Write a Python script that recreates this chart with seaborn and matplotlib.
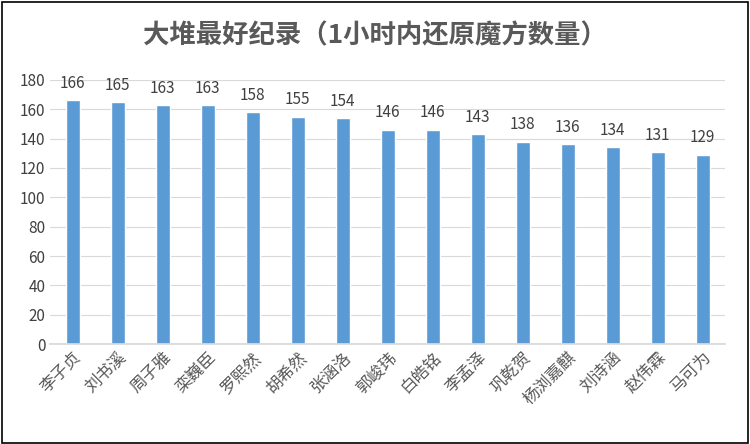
import matplotlib
matplotlib.use("Agg")
import matplotlib.pyplot as plt
import seaborn as sns
import pandas as pd

names = ["李子贞","刘书溪","周子雅","栾巍臣","罗熙然","胡希然","张涵洛","郭峻玮","白皓铭","李孟泽","巩乾贺","杨浏嘉麒","刘诗涵","赵伟霖","马可为"]
values = [166,165,163,163,158,155,154,146,146,143,138,136,134,131,129]
title = "大堆最好纪录（1小时内还原魔方数量）"

sns.set_theme(style="white")
plt.rcParams['font.family'] = ['Noto Sans CJK SC', 'DejaVu Sans']

fig = plt.figure(figsize=(7.5, 4.44), dpi=100)
ax = fig.add_axes([0.067, 0.225, 0.90, 0.595])
df = pd.DataFrame({"name": names, "value": values})
sns.barplot(data=df, x="name", y="value", color="#5B9BD5", saturation=1, width=0.3, ax=ax)
ax.set_ylim(0, 180)
ax.set_yticks(range(0, 181, 20))
ax.yaxis.grid(True, color="#d9d9d9", lw=0.8)
ax.set_axisbelow(True)
for s in ["top", "right", "left"]:
    ax.spines[s].set_visible(False)
ax.spines["bottom"].set_color("#d9d9d9")
ax.set_xlabel(""); ax.set_ylabel("")
ax.tick_params(axis="y", labelsize=11, colors="#404040", length=0)
ax.tick_params(axis="x", labelsize=12, colors="#595959", length=0)
plt.setp(ax.get_xticklabels(), rotation=45, ha="right", rotation_mode="anchor")
for c in ax.containers:
    ax.bar_label(c, fmt="%d", padding=6, fontsize=11, color="#404040")
fig.text(0.5, 0.92, title, ha="center", va="center", fontsize=19, fontweight="bold", color="#595959")
fig.patches.append(plt.Rectangle((0.002, 0.003), 0.995, 0.993, transform=fig.transFigure, fill=False, ec="black", lw=1.2))
fig.savefig("out.png", dpi=100)
